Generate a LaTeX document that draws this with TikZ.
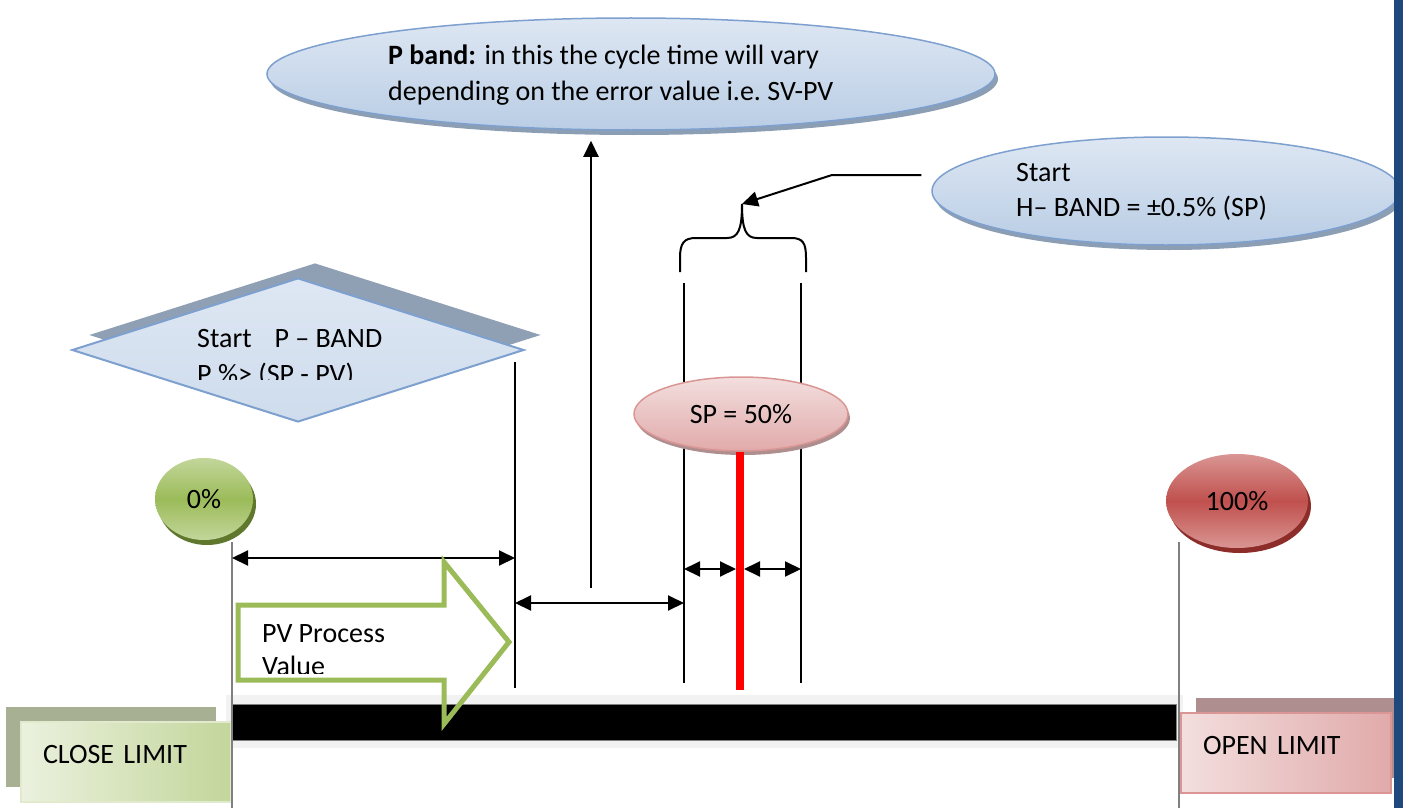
\documentclass[tikz,border=0pt]{standalone}
\usepackage{fontspec}
\setmainfont{Carlito}
\usepackage{tikz}
\usetikzlibrary{arrows.meta,shapes.geometric,shadows}

\definecolor{bandblue}{RGB}{185,205,229}
\definecolor{bandlight}{RGB}{222,231,243}
\definecolor{bandedge}{RGB}{126,160,207}
\definecolor{bandshade}{RGB}{140,158,180}
\definecolor{diamshade}{RGB}{143,160,180}
\definecolor{pinklight}{RGB}{243,222,222}
\definecolor{pinkdark}{RGB}{225,170,170}
\definecolor{pinkedge}{RGB}{217,150,148}
\definecolor{pinkshade}{RGB}{174,142,142}
\definecolor{greenlight}{RGB}{235,241,222}
\definecolor{greenmid}{RGB}{195,214,155}
\definecolor{greenok}{RGB}{155,187,89}
\definecolor{greendark}{RGB}{95,120,45}
\definecolor{greenshade}{RGB}{167,176,147}
\definecolor{redfull}{RGB}{192,80,77}
\definecolor{redlight}{RGB}{217,150,148}
\definecolor{reddark}{RGB}{140,45,42}
\definecolor{pagebar}{RGB}{31,73,125}

\begin{document}
\begin{tikzpicture}[x=1pt,y=-1pt,>={Triangle[length=16pt,width=15pt]},
	every node/.style={font=\fontsize{28}{35}\selectfont},
	txt/.style={inner sep=0pt,anchor=west,align=left},
	note/.style={ellipse,inner sep=0pt,draw=bandedge,line width=1.5pt,top color=bandlight,bottom color=bandblue,drop shadow={shadow xshift=3pt,shadow yshift=-5pt,fill=bandshade,opacity=1}},
	spnote/.style={ellipse,inner sep=0pt,draw=pinkedge,line width=1.5pt,top color=pinklight,bottom color=pinkdark,drop shadow={shadow xshift=2pt,shadow yshift=-4pt,fill=pinkshade,opacity=1}},
	zeronote/.style={ellipse,inner sep=0pt,top color=greenmid,bottom color=greenmid,middle color=greenok,drop shadow={shadow xshift=3pt,shadow yshift=-5pt,fill=greendark,opacity=1}},
	fullnote/.style={ellipse,inner sep=0pt,top color=redlight,bottom color=redlight,middle color=redfull,drop shadow={shadow xshift=3pt,shadow yshift=-5pt,fill=reddark,opacity=1}},
	limitbox/.style={rectangle,minimum height=80pt,text width=166pt,inner xsep=22pt,align=left,text height=20pt,text depth=18pt,line width=1.5pt},
	guide/.style={line width=1.5pt},
	graylim/.style={line width=1.5pt,draw=gray},
	dimline/.style={line width=2pt,<->},
	conn/.style={line width=2pt,->}]
	\useasboundingbox (0,0) rectangle (1403,808);

	% the travel bar and its two limits
	\fill[black!5] (226,695) rectangle (1183,748);
	\draw[fill=black,draw=gray] (232,704) rectangle (1176,740);
	\node[limitbox,left color=greenlight,right color=greenmid,draw=greenmid!50,drop shadow={shadow xshift=-15pt,shadow yshift=15pt,fill=greenshade,opacity=1}] (closelim) at (126,762) {CLOSE LIMIT};
	\node[limitbox,left color=pinklight,right color=pinkdark,draw=pinkedge,drop shadow={shadow xshift=15pt,shadow yshift=15pt,fill=pinkshade,opacity=1}] (openlim) at (1286,753) {OPEN LIMIT};

	\coordinate (zerotop) at (232,542);
	\coordinate (zerobot) at (232,808);
	\coordinate (fulltop) at (1179,542);
	\coordinate (fullbot) at (1179,808);
	\draw[graylim] (zerotop) -- (zerobot);
	\draw[graylim] (fulltop) -- (fullbot);

	% band limits
	\coordinate (ptop) at (515,362);
	\coordinate (pbot) at (515,688);
	\coordinate (hltop) at (684,283);
	\coordinate (hlbot) at (684,683);
	\coordinate (hrtop) at (801,283);
	\coordinate (hrbot) at (801,683);
	\draw[guide] (ptop) -- (pbot);
	\draw[guide] (hltop) -- (hlbot);
	\draw[guide] (hrtop) -- (hrbot);

	\coordinate (row1) at (0,558);
	\coordinate (row2) at (0,603);
	\coordinate (row3) at (0,569);
	\coordinate (redbot) at (740,690);
	\draw[dimline] (zerotop |- row1) -- (ptop |- row1);
	\draw[dimline] (ptop |- row2) -- (hltop |- row2);
	\draw[dimline,shorten >=4pt] (hltop |- row3) -- (redbot |- row3);
	\draw[dimline,shorten <=4pt] (redbot |- row3) -- (hrtop |- row3);

	% process value arrow
	\draw[draw=greenok,line width=5pt,line join=miter] (238,605) -- (444,605) -- (444,562) -- (509,642) -- (444,724) -- (444,680) -- (238,680) -- cycle;
	\begin{scope}
		\clip (250,600) rectangle (440,673);
		\node[txt,font=\fontsize{28}{33}\selectfont] (pvtext) at (262,650) {PV Process\\Value};
	\end{scope}

	% notes
	\node[note,minimum width=728pt,minimum height=112pt] (topnote) at (631,74) {};
	\node[txt,font=\fontsize{28}{36}\selectfont] (toptext) at (388,75) {\textbf{P band:} in this the cycle time will vary\\depending on the error value i.e.\ SV-PV};
	\coordinate (upbase) at (591,588);
	\draw[conn,shorten >=10pt] (upbase) -- (upbase |- topnote.south);

	\node[note,minimum width=468pt,minimum height=108pt] (hnote) at (1166,191) {};
	\node[txt] (htext) at (1016,192) {Start\\H– BAND = ±0.5\% (SP)};

	\node[diamond,inner sep=0pt,minimum width=452pt,minimum height=144pt,draw=bandedge,line width=2pt,top color=bandlight,bottom color=bandblue!70,drop shadow={shadow xshift=17pt,shadow yshift=15pt,fill=diamshade,opacity=1}] (pband) at (298,350) {};
	\begin{scope}
		\clip (190,310) rectangle (420,379);
		\node[txt,font=\fontsize{28}{36}\selectfont] (ptext) at (197,358) {Start\hspace{23pt}P – BAND\\P \%> (SP - PV)};
	\end{scope}

	\node[spnote,minimum width=214pt,minimum height=74pt] (spnode) at (741,414) {SP = 50\%};
	\draw[line width=8pt,red] (redbot |- spnode.south) -- (redbot);

	\node[zeronote,minimum width=98pt,minimum height=82pt] (zero) at (204,499) {0\%};
	\node[fullnote,minimum width=142pt,minimum height=94pt] (full) at (1237,501) {100\%};

	% hysteresis brace
	\coordinate (hbend) at (832,175);
	\coordinate (bracetip) at (742,204);
	\draw[line width=2pt] (680,272) -- (680,258) .. controls (680,243) and (684,238) .. (696,238) -- (727,238) .. controls (738,238) and (742,230) .. (bracetip) .. controls (742,230) and (746,238) .. (757,238) -- (791,238) .. controls (803,238) and (806,243) .. (806,258) -- (806,272);
	\draw[conn,shorten <=10pt] (hnote.west |- hbend) -- (hbend) -- (bracetip);

	\fill[pagebar] (1394,0) rectangle (1403,808);
\end{tikzpicture}
\end{document}
